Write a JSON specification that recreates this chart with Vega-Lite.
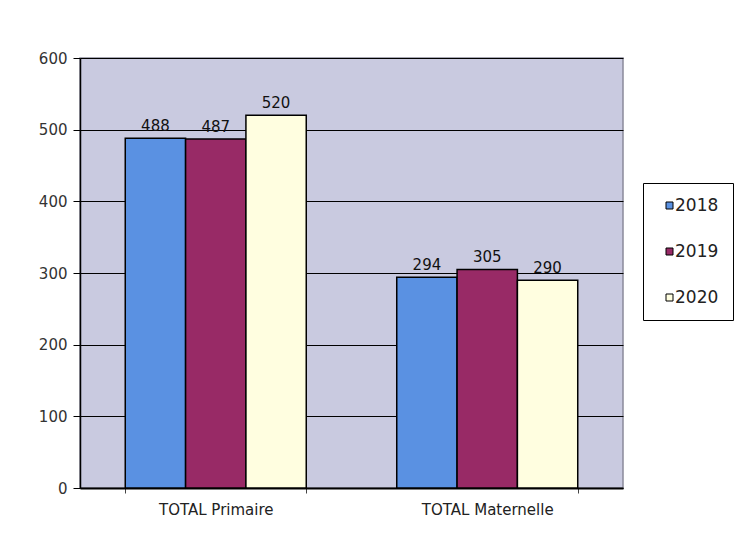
{
  "$schema": "https://vega.github.io/schema/vega-lite/v6.json",
  "width": 543,
  "height": 430,
  "autosize": {"type": "none"},
  "padding": {"left": 80, "top": 58, "right": 113, "bottom": 61},
  "background": "white",
  "data": {
    "values": [
      {"cat": "TOTAL Primaire", "year": "2018", "value": 488},
      {"cat": "TOTAL Primaire", "year": "2019", "value": 487},
      {"cat": "TOTAL Primaire", "year": "2020", "value": 520},
      {"cat": "TOTAL Maternelle", "year": "2018", "value": 294},
      {"cat": "TOTAL Maternelle", "year": "2019", "value": 305},
      {"cat": "TOTAL Maternelle", "year": "2020", "value": 290}
    ]
  },
  "encoding": {
    "x": {
      "field": "cat", "type": "nominal", "sort": ["TOTAL Primaire", "TOTAL Maternelle"],
      "scale": {"paddingInner": 0.3333, "paddingOuter": 0.1667},
      "axis": {"title": null, "labelAngle": 0, "labelFont": "DejaVu Sans", "labelFontSize": 15, "labelColor": "#222",
               "domainColor": "black", "domainWidth": 2, "tickBand": "extent", "tickColor": "#444", "tickSize": 5,
               "labelPadding": 9}
    },
    "xOffset": {"field": "year", "type": "nominal"},
    "y": {
      "field": "value", "type": "quantitative",
      "scale": {"domain": [0, 600]},
      "axis": {"title": null, "values": [0, 100, 200, 300, 400, 500, 600], "labelFont": "DejaVu Sans", "labelFontSize": 15,
               "labelColor": "#333", "domainColor": "black", "domainWidth": 1.5, "tickColor": "black", "tickSize": 7,
               "labelPadding": 6, "grid": true, "gridColor": "black", "gridWidth": 1.1}
    }
  },
  "layer": [
    {
      "mark": {"type": "bar", "stroke": "black", "strokeWidth": 1.5},
      "encoding": {
        "color": {
          "field": "year", "type": "nominal",
          "scale": {"domain": ["2018", "2019", "2020"], "range": ["#5a91e2", "#982a66", "#fffee0"]},
          "legend": {
            "title": null, "orient": "none", "legendX": 563, "legendY": 125,
            "symbolType": "square", "symbolSize": 49, "symbolStrokeColor": "black", "symbolStrokeWidth": 1,
            "symbolOffset": 4,
            "labelFont": "DejaVu Sans", "labelFontSize": 17, "labelColor": "#222", "labelOffset": -3,
            "rowPadding": 28, "strokeColor": "black", "fillColor": "white", "padding": 14,
            "symbolOpacity": 1
          }
        }
      }
    },
    {
      "mark": {"type": "text", "dy": -12, "font": "DejaVu Sans", "fontSize": 15, "color": "#111"},
      "encoding": {"text": {"field": "value", "type": "quantitative"}}
    }
  ],
  "config": {
    "view": {"fill": "#c9cae0", "stroke": "#8a8a9a", "strokeWidth": 1.5}
  }
}
